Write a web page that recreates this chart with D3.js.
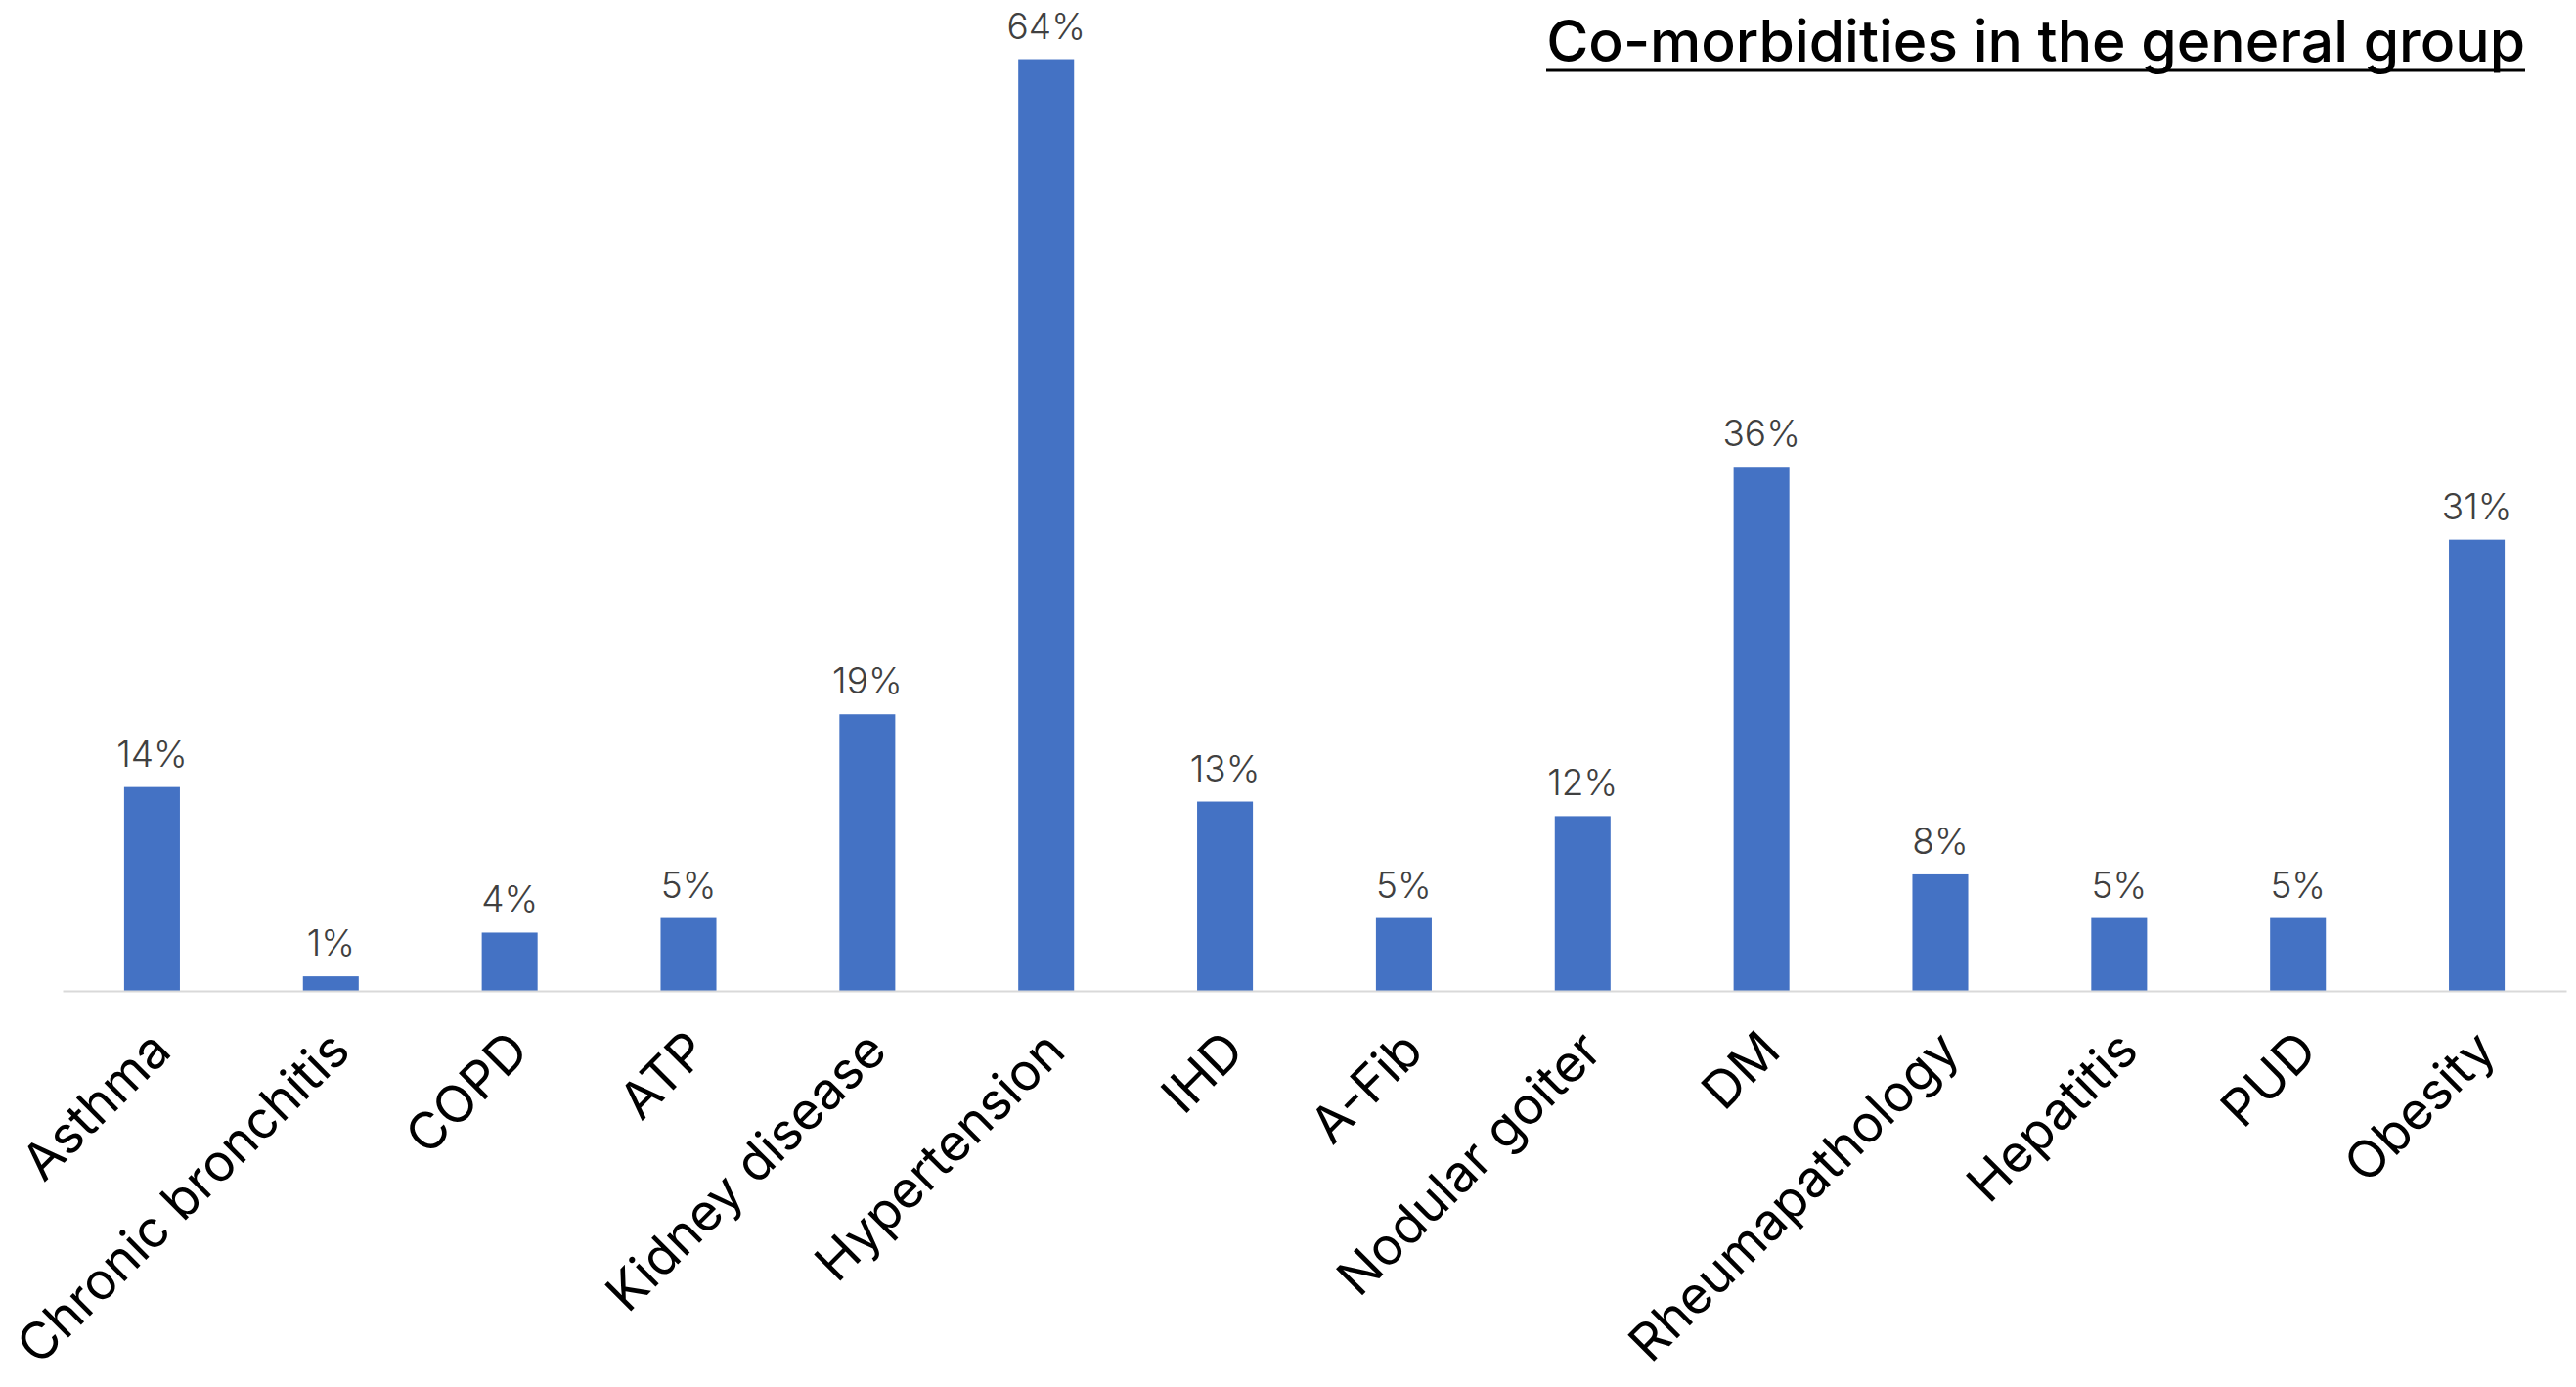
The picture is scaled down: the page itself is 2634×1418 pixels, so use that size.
<html>
<head>
    <script src="https://d3js.org/d3.v7.min.js"></script>
    <style>
        body { margin: 0; background: #fff; }
    </style>
</head>

<body>
    <svg id="chart"></svg>

    <script>
        var Width = 2634;
        var Height = 1418;

        var categories = ["Asthma", "Chronic bronchitis", "COPD", "ATP", "Kidney disease",
            "Hypertension", "IHD", "A-Fib", "Nodular goiter", "DM",
            "Rheumapathology", "Hepatitis", "PUD", "Obesity"];
        var values = [14, 1, 4, 5, 19, 64, 13, 5, 12, 36, 8, 5, 5, 31];
        var valueLabels = ["14%", "1%", "4%", "5%", "19%", "64%", "13%", "5%", "12%", "36%", "8%", "5%", "5%", "31%"];
        var title = "Co-morbidities in the general group";

        var Font = "Inter, 'Noto Sans', sans-serif";
        var plot = { left: 64, right: 2624, bottom: 1013, top: 1 };

        var svg = d3.select("#chart")
            .attr("width", Width)
            .attr("height", Height);

        var x = d3.scaleBand()
            .domain(categories)
            .range([plot.left, plot.right])
            .paddingInner(0.688)
            .paddingOuter(0.344);

        var y = d3.scaleLinear()
            .domain([0, 68])
            .range([plot.bottom, plot.top]);

        var rows = categories.map(function(c, i) {
            return { name: c, value: values[i], label: valueLabels[i] };
        });

        // bars
        svg.append("g").selectAll("rect")
            .data(rows)
            .enter()
            .append("rect")
                .attr("x", function(d) { return x(d.name); })
                .attr("y", function(d) { return y(d.value); })
                .attr("width", x.bandwidth())
                .attr("height", function(d) { return y(0) - y(d.value); })
                .attr("fill", "#4472C4");

        // value labels
        svg.append("g").selectAll("text")
            .data(rows)
            .enter()
            .append("text")
                .attr("x", function(d) { return x(d.name) + x.bandwidth() / 2; })
                .attr("y", function(d) { return y(d.value) - 21; })
                .attr("text-anchor", "middle")
                .attr("font-family", Font)
                .attr("font-weight", 300)
                .attr("font-size", 37)
                .attr("fill", "#404040")
                .text(function(d) { return d.label; });

        // category axis
        var axis = svg.append("g")
            .attr("transform", "translate(0," + plot.bottom + ")")
            .call(d3.axisBottom(x).tickSize(0).tickPadding(0));

        axis.select(".domain")
            .attr("stroke", "#d9d9d9")
            .attr("stroke-width", 2);

        axis.selectAll(".tick text")
            .attr("font-family", Font)
            .attr("font-size", 52.5)
            .attr("fill", "#000")
            .attr("text-anchor", "end")
            .attr("dy", 0)
            .attr("y", 0)
            .attr("transform", "translate(22,64) rotate(-45)");

        // title, fitted to its width in the reference
        var t = svg.append("text")
            .attr("x", 2582)
            .attr("y", 63)
            .attr("text-anchor", "end")
            .attr("font-family", Font)
            .attr("font-weight", 500)
            .attr("font-size", 56)
            .attr("fill", "#000")
            .text(title);

        var w = t.node().getComputedTextLength();
        t.attr("font-size", 56 * 1001 / w);

        svg.append("line")
            .attr("x1", 2582 - 1001).attr("x2", 2582)
            .attr("y1", 72).attr("y2", 72)
            .attr("stroke", "#000")
            .attr("stroke-width", 3);
    </script>
</body>
</html>
